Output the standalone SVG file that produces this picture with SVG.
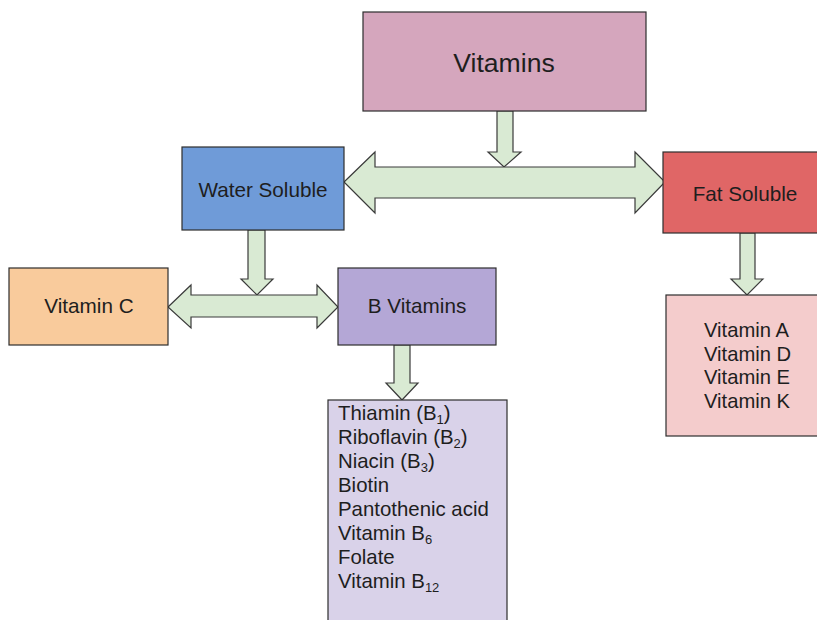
<svg xmlns="http://www.w3.org/2000/svg" width="817" height="620" viewBox="0 0 817 620">
<style>
.box{stroke:#2e2e2e;stroke-width:1.2}
.arr{fill:#d9ead3;stroke:#3a3a3a;stroke-width:1.2;stroke-linejoin:miter}
text{font-family:"Liberation Sans",Arial,sans-serif;fill:#1e1e1e}
.lbl{font-size:20.7px;text-anchor:middle}
.lst{font-size:20.4px}
.fl{font-size:20.2px}
.sub{font-size:13px}
</style>
<rect width="817" height="620" fill="#ffffff"/>
<g id="connectors">
<polygon class="arr" points="497,111 513,111 513,152 521,152 504,167 488,152 497,152"/>
<polygon class="arr" points="344,182 375,152 375,167 635,167 635,152 665,182 635,213 635,198 375,198 375,213"/>
<polygon class="arr" points="248,230 265,230 265,279 273,279 257,295 241,279 248,279"/>
<polygon class="arr" points="168,307 191,285 191,295 317,295 317,285 338,307 317,328 317,317 191,317 191,328"/>
<polygon class="arr" points="394,345 410,345 410,383 418,383 402,400 386,383 394,383"/>
<polygon class="arr" points="740,233 755,233 755,279 763,279 747,295 731,279 740,279"/>
</g>
<g id="vitamins">
<rect class="box" x="363" y="12" width="283" height="99" fill="#d5a6bd"/>
<text x="504" y="72" style="font-size:26.6px;text-anchor:middle">Vitamins</text>
</g>
<g id="water-soluble">
<rect class="box" x="182" y="147" width="162" height="83" fill="#6f9bd8"/>
<text class="lbl" x="263" y="197">Water Soluble</text>
</g>
<g id="fat-soluble">
<rect class="box" x="663" y="152" width="160" height="81" fill="#e06666"/>
<text class="lbl" x="745" y="201">Fat Soluble</text>
</g>
<g id="vitamin-c">
<rect class="box" x="9" y="268" width="159" height="77" fill="#f9cb9c"/>
<text class="lbl" x="89" y="313">Vitamin C</text>
</g>
<g id="b-vitamins">
<rect class="box" x="338" y="268" width="158" height="77" fill="#b4a7d6"/>
<text class="lbl" x="417" y="313">B Vitamins</text>
</g>
<g id="b-list">
<rect class="box" x="328" y="400" width="179" height="240" fill="#d9d2e9"/>
<text class="lst" x="338" y="420">Thiamin (B<tspan class="sub" dy="4">1</tspan><tspan dy="-4">)</tspan></text>
<text class="lst" x="338" y="444">Riboflavin (B<tspan class="sub" dy="4">2</tspan><tspan dy="-4">)</tspan></text>
<text class="lst" x="338" y="468">Niacin (B<tspan class="sub" dy="4">3</tspan><tspan dy="-4">)</tspan></text>
<text class="lst" x="338" y="492">Biotin</text>
<text class="lst" x="338" y="516">Pantothenic acid</text>
<text class="lst" x="338" y="540">Vitamin B<tspan class="sub" dy="4">6</tspan></text>
<text class="lst" x="338" y="564">Folate</text>
<text class="lst" x="338" y="588">Vitamin B<tspan class="sub" dy="4">12</tspan></text>
</g>
<g id="fat-list">
<rect class="box" x="666" y="295" width="160" height="141" fill="#f4cccc"/>
<text class="fl" x="704" y="337">Vitamin A</text>
<text class="fl" x="704" y="360.5">Vitamin D</text>
<text class="fl" x="704" y="384">Vitamin E</text>
<text class="fl" x="704" y="407.5">Vitamin K</text>
</g>
</svg>
